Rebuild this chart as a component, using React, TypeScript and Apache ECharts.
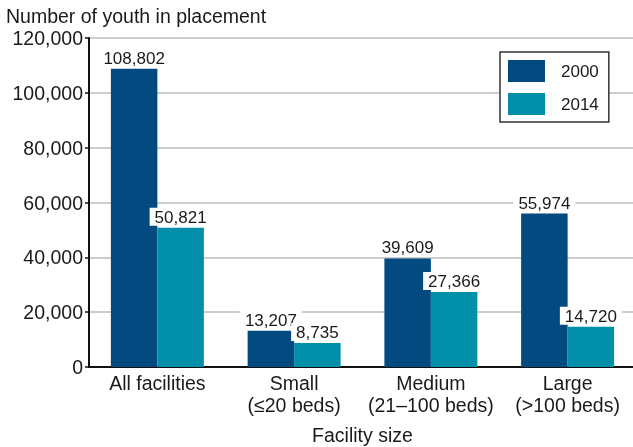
import React, { useEffect, useRef } from "react";
import * as echarts from "echarts";

const categories = ["All facilities", "Small\n(≤20 beds)", "Medium\n(21–100 beds)", "Large\n(>100 beds)"];
const values2000 = [108802, 13207, 39609, 55974];
const values2014 = [50821, 8735, 27366, 14720];
const seriesNames = ["2000", "2014"];

const FONT = "'Liberation Sans', Arial, Helvetica, sans-serif";

export default function App() {
  const ref = useRef<HTMLDivElement>(null);
  useEffect(() => {
    if (!ref.current) return;
    const chart = echarts.init(ref.current, null, { renderer: "svg" });
    const labelCfg = {
      show: true,
      position: "top",
      distance: 2,
      fontSize: 17,
      fontFamily: FONT,
      color: "#1a1a1a",
      backgroundColor: "#fff",
      padding: [1, 5, 0, 5],
      formatter: (p: any) => Number(p.value).toLocaleString("en-US"),
    };
    chart.setOption({
      animation: false,
      textStyle: { fontFamily: FONT },
      title: {
        text: "Number of youth in placement",
        left: 6,
        top: 5,
        padding: 0,
        textStyle: { fontSize: 19.5, lineHeight: 22, fontWeight: "normal", color: "#1a1a1a", fontFamily: FONT },
      },
      legend: {
        orient: "vertical",
        left: 500,
        top: 52,
        itemWidth: 37,
        itemHeight: 22,
        itemGap: 11,
        padding: [8, 10, 7, 8],
        borderColor: "#333",
        borderWidth: 1.5,
        backgroundColor: "#fff",
        textStyle: { fontSize: 17, color: "#1a1a1a", padding: [0, 0, 0, 11], fontFamily: FONT },
        data: seriesNames.map((n) => ({ name: n, icon: "rect" })),
      },
      grid: { left: 89, right: -3, top: 38, bottom: 80, containLabel: false, outerBoundsMode: "none" },
      xAxis: {
        type: "category",
        data: categories,
        axisLine: { lineStyle: { color: "#111", width: 2 } },
        axisTick: { show: false },
        axisLabel: { interval: 0, fontSize: 19.5, color: "#1a1a1a", lineHeight: 22, margin: 5, fontFamily: FONT },
        name: "Facility size",
        nameLocation: "middle",
        nameGap: 58,
        nameTextStyle: { fontSize: 19.5, color: "#1a1a1a", fontFamily: FONT },
      },
      yAxis: {
        type: "value",
        min: 0,
        max: 120000,
        interval: 20000,
        axisLine: { show: true, lineStyle: { color: "#111", width: 2 } },
        axisTick: { show: true, length: 4, lineStyle: { color: "#111", width: 1.5 } },
        axisLabel: {
          fontSize: 19.5,
          lineHeight: 20,
          color: "#1a1a1a",
          margin: 6,
          fontFamily: FONT,
          formatter: (v: number) => v.toLocaleString("en-US"),
        },
        splitLine: { lineStyle: { color: "#bdbdbd", width: 1.5 } },
      },
      series: [
        {
          name: seriesNames[0],
          type: "bar",
          data: values2000,
          barGap: "0%",
          barCategoryGap: "32%",
          itemStyle: { color: "#024a80" },
          label: labelCfg,
        },
        {
          name: seriesNames[1],
          type: "bar",
          data: values2014,
          itemStyle: { color: "#018fa9" },
          label: labelCfg,
        },
      ],
    });
    return () => chart.dispose();
  }, []);
  return <div ref={ref} style={{ position: "fixed", left: 0, top: 0, width: 633, height: 447 }} />;
}
